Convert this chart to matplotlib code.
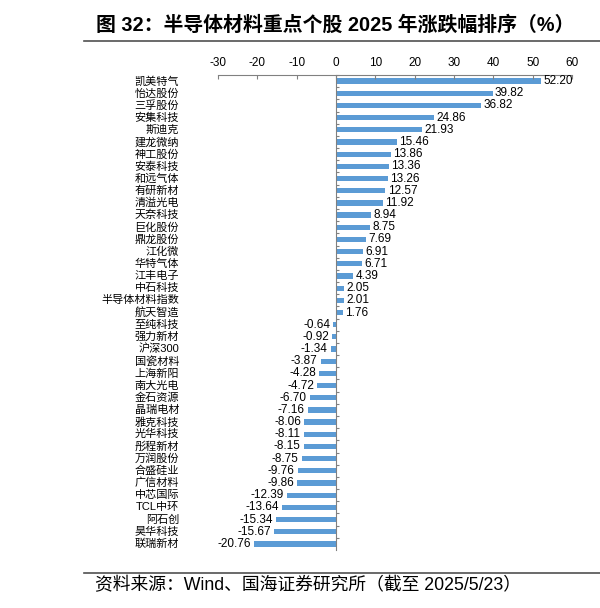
import matplotlib.pyplot as plt
from matplotlib.lines import Line2D
from matplotlib.transforms import blended_transform_factory

plt.rcParams['font.family'] = ['Liberation Sans', 'Noto Sans CJK SC', 'DejaVu Sans']
plt.rcParams['axes.unicode_minus'] = False

names = ['凯美特气', '怡达股份', '三孚股份', '安集科技', '斯迪克', '建龙微纳', '神工股份',
         '安泰科技', '和远气体', '有研新材', '清溢光电', '天奈科技', '巨化股份', '鼎龙股份',
         '江化微', '华特气体', '江丰电子', '中石科技', '半导体材料指数', '航天智造',
         '至纯科技', '强力新材', '沪深300', '国瓷材料', '上海新阳', '南大光电', '金石资源',
         '晶瑞电材', '雅克科技', '光华科技', '彤程新材', '万润股份', '合盛硅业', '广信材料',
         '中芯国际', 'TCL中环', '阿石创', '昊华科技', '联瑞新材']
values = [52.20, 39.82, 36.82, 24.86, 21.93, 15.46, 13.86, 13.36, 13.26, 12.57, 11.92,
          8.94, 8.75, 7.69, 6.91, 6.71, 4.39, 2.05, 2.01, 1.76, -0.64, -0.92, -1.34,
          -3.87, -4.28, -4.72, -6.70, -7.16, -8.06, -8.11, -8.15, -8.75, -9.76, -9.86,
          -12.39, -13.64, -15.34, -15.67, -20.76]
xticks = [-30, -20, -10, 0, 10, 20, 30, 40, 50, 60]

fig = plt.figure(figsize=(6, 6.08), dpi=100)
ax = fig.add_axes([218 / 600, 1 - 550 / 608, (572 - 218) / 600, (550 - 75) / 608])

pos = list(range(len(names)))
ax.barh(pos, values, height=0.43, color='#5B9BD5')
ax.set_xlim(-30, 60)
ax.set_ylim(len(names) - 0.5, -0.5)

# top axis
ax.xaxis.tick_top()
ax.set_xticks(xticks)
ax.tick_params(axis='x', direction='in', length=3, color='#808080', labelsize=8.5, pad=4)
ax.spines['top'].set_color('#808080')
ax.spines['bottom'].set_visible(False)
ax.spines['right'].set_visible(False)

# vertical axis at zero
ax.spines['left'].set_position(('data', 0))
ax.spines['left'].set_color('#808080')
ax.set_yticks([p + 0.5 for p in pos[:-1]] + [-0.5])
ax.tick_params(axis='y', direction='in', length=2.5, color='#808080', labelleft=False)

trans = blended_transform_factory(ax.transAxes, ax.transData)
for p, n in zip(pos, names):
    ax.text(-0.11, p, n, transform=trans, ha='right', va='center', fontsize=8,
            family=['Noto Sans CJK SC', 'DejaVu Sans'] if 'TCL' not in n and '300' not in n
            else ['Liberation Sans', 'Noto Sans CJK SC'])

for p, v in zip(pos, values):
    if v >= 0:
        ax.text(v + 0.6, p, f'{v:.2f}', ha='left', va='center', fontsize=8.5)
    else:
        ax.text(v - 0.8, p, f'{v:.2f}', ha='right', va='center', fontsize=8.5)

fig.text(96 / 600, 1 - 25 / 608, '图 32：半导体材料重点个股 2025 年涨跌幅排序（%）',
         fontsize=14.3, fontweight='bold', ha='left', va='center',
         family=['Liberation Sans', 'Noto Sans CJK SC'])
fig.add_artist(Line2D([84 / 600, 1.0], [1 - 41 / 608] * 2, color='#505050', lw=1.2))
fig.add_artist(Line2D([84 / 600, 1.0], [1 - 572.5 / 608] * 2, color='#505050', lw=1.2))
fig.text(95 / 600, 1 - 586 / 608, '资料来源：Wind、国海证券研究所（截至 2025/5/23）',
         fontsize=12.8, ha='left', va='center', family=['Liberation Sans', 'Noto Sans CJK SC'])

fig.savefig('out.png', dpi=100)
